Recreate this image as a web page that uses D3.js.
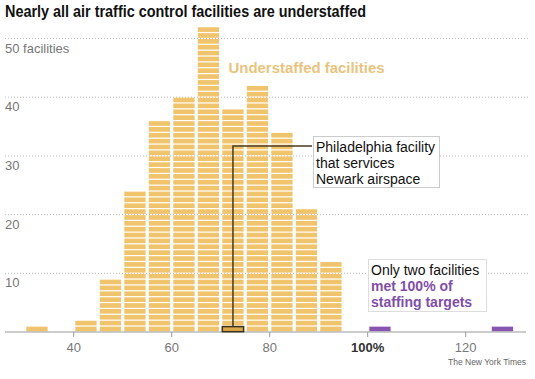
<!DOCTYPE html>
<html>
<head>
<meta charset="utf-8">
<script src="https://cdn.jsdelivr.net/npm/d3@7"></script>
<style>
  body { margin: 0; background: #fff; }
  text { font-family: "Liberation Sans", Arial, sans-serif; }
</style>
</head>
<body>
<svg id="chart" width="535" height="379"></svg>
<script>
// bins are 5 points wide, keyed by their lower edge (% of staffing target)
var binStarts = [30, 40, 45, 50, 55, 60, 65, 70, 75, 80, 85, 90];
var binCounts = [1, 2, 9, 24, 36, 40, 52, 38, 42, 34, 21, 12];
var fullStarts = [100, 125];
var fullCounts = [1, 1];
var highlightBin = 70;   // Philadelphia facility, bottom unit of this bin
var yTicks = [10, 20, 30, 40, 50];
var xTicks = [40, 60, 80, 100, 120];

var svg = d3.select('#chart');
var binWidth = 5;

var x = d3.scaleLinear().domain([40, 120]).range([73.7, 465.7]);
var y = d3.scaleLinear().domain([0, 50]).range([332, 38.5]);
var unitH = y(0) - y(1);

// gridlines
svg.selectAll('.grid')
    .data(yTicks)
    .join('line')
    .classed('grid', true)
    .attr('x1', 5).attr('x2', 528)
    .attr('y1', d => y(d)).attr('y2', d => y(d))
    .attr('stroke', '#bbb')
    .attr('stroke-width', 1)
    .attr('stroke-dasharray', '1,2');

svg.selectAll('.ylab')
    .data(yTicks)
    .join('text')
    .classed('ylab', true)
    .attr('x', 5)
    .attr('y', d => y(d) + 14)
    .attr('font-size', 13)
    .attr('fill', '#777')
    .text(d => d == 50 ? '50 facilities' : d);

// stacked units, one per facility
function units(starts, counts) {
    var out = [];
    starts.forEach(function(s, i) {
        for (var k = 0; k < counts[i]; k++) out.push({bin: s, k: k});
    });
    return out;
}

svg.selectAll('.unit')
    .data(units(binStarts, binCounts))
    .join('rect')
    .classed('unit', true)
    .attr('x', d => x(d.bin) + 1.6)
    .attr('width', d => x(d.bin + binWidth) - x(d.bin) - 3.2)
    .attr('y', d => y(d.k + 1) + 0.5)
    .attr('height', unitH - 1.2)
    .attr('fill', '#f0c46c');

svg.selectAll('.full')
    .data(units(fullStarts, fullCounts))
    .join('rect')
    .classed('full', true)
    .attr('x', d => x(d.bin) + 1.6)
    .attr('width', d => x(d.bin + binWidth) - x(d.bin) - 3.2)
    .attr('y', d => y(d.k + 1) + 0.5)
    .attr('height', unitH - 1.2)
    .attr('fill', '#8856b0');

// baseline and ticks
svg.append('line')
    .attr('x1', 5).attr('x2', 526)
    .attr('y1', y(0)).attr('y2', y(0))
    .attr('stroke', '#999');

svg.selectAll('.xtick')
    .data(xTicks)
    .join('line')
    .classed('xtick', true)
    .attr('x1', d => x(d)).attr('x2', d => x(d))
    .attr('y1', y(0)).attr('y2', y(0) + 5)
    .attr('stroke', '#999');

svg.selectAll('.xlab')
    .data(xTicks)
    .join('text')
    .classed('xlab', true)
    .attr('x', d => x(d))
    .attr('y', 352)
    .attr('text-anchor', 'middle')
    .attr('font-size', 13)
    .attr('font-weight', d => d == 100 ? 'bold' : 'normal')
    .attr('fill', d => d == 100 ? '#333' : '#777')
    .text(d => d == 100 ? '100%' : d);

// highlighted facility + leader line
var hx = x(highlightBin) + 1.6;
var hw = x(highlightBin + binWidth) - x(highlightBin) - 3.2;
var hcx = hx + hw / 2;
svg.append('path')
    .attr('d', `M${hcx},${y(1)} V146 H312`)
    .attr('fill', 'none')
    .attr('stroke', '#4a3b22')
    .attr('stroke-width', 1.5);
svg.append('rect')
    .attr('x', hx).attr('width', hw)
    .attr('y', y(1) + 0.5).attr('height', unitH - 0.8)
    .attr('fill', '#d9a747')
    .attr('stroke', '#3d3220')
    .attr('stroke-width', 1.5);

// annotation boxes
svg.append('rect')
    .attr('x', 313.5).attr('y', 136.5)
    .attr('width', 126).attr('height', 51)
    .attr('fill', '#fff').attr('stroke', '#ccc');
var phil = svg.append('text').attr('font-size', 14).attr('fill', '#111');
['Philadelphia facility', 'that services', 'Newark airspace'].forEach(function(t, i) {
    phil.append('tspan').attr('x', 316).attr('y', 151.5 + i * 16.3).text(t);
});

svg.append('rect')
    .attr('x', 368.5).attr('y', 259.5)
    .attr('width', 118).attr('height', 52)
    .attr('fill', '#fff').attr('stroke', '#ddd');
var only = svg.append('text').attr('font-size', 14);
only.append('tspan').attr('x', 371).attr('y', 275).attr('fill', '#111').text('Only two facilities');
only.append('tspan').attr('x', 371).attr('y', 291).attr('fill', '#7f4fa8').attr('font-weight', 'bold').text('met 100% of');
only.append('tspan').attr('x', 371).attr('y', 307).attr('fill', '#7f4fa8').attr('font-weight', 'bold').text('staffing targets');

svg.append('text')
    .attr('x', 228.5).attr('y', 72.5)
    .attr('font-size', 14).attr('font-weight', 'bold')
    .attr('fill', '#e8c47f')
    .attr('textLength', 156).attr('lengthAdjust', 'spacingAndGlyphs')
    .text('Understaffed facilities');

// title and credit
svg.append('text')
    .attr('x', 5).attr('y', 17)
    .attr('font-size', 16).attr('font-weight', 'bold')
    .attr('fill', '#111')
    .attr('textLength', 361).attr('lengthAdjust', 'spacingAndGlyphs')
    .text('Nearly all air traffic control facilities are understaffed');

svg.append('text')
    .attr('x', 448).attr('y', 365)
    .attr('font-size', 8.5)
    .attr('fill', '#666')
    .text('The New York Times');
</script>
</body>
</html>
